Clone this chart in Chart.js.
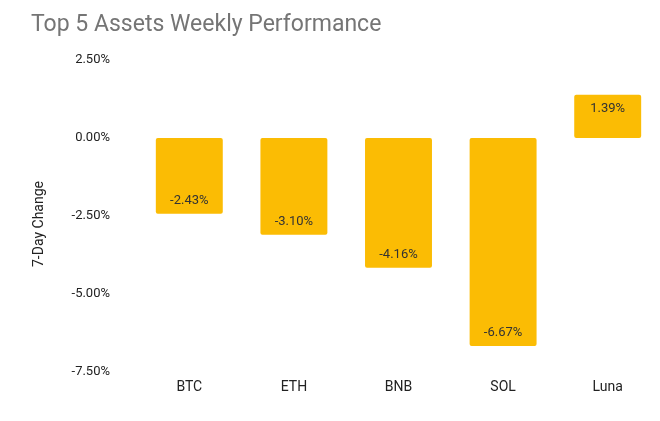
<!DOCTYPE html>
<html><head><meta charset="utf-8">
<script src="https://cdn.jsdelivr.net/npm/chart.js@4"></script>
<style>html,body{margin:0;padding:0;background:#fff}#wrap{width:660px;height:421px}</style>
</head><body><div id="wrap"><canvas id="c"></canvas></div>
<script>
const categories = ['BTC', 'ETH', 'BNB', 'SOL', 'Luna'];
const changes = [-2.43, -3.10, -4.16, -6.67, 1.39];
const chartTitle = 'Top 5 Assets Weekly Performance';
const yAxisTitle = '7-Day Change';

const fmt = v => v.toFixed(2) + '%';

const titlePlugin = {
  id: 'customTitle',
  afterDraw(chart) {
    const ctx = chart.ctx;
    ctx.save();
    ctx.font = '23px Roboto';
    ctx.fillStyle = '#757575';
    ctx.textAlign = 'left';
    ctx.textBaseline = 'alphabetic';
    ctx.fillText(chartTitle, 31, 31);
    // y-axis title
    ctx.font = '14px Roboto';
    ctx.fillStyle = '#222';
    ctx.textAlign = 'center';
    ctx.textBaseline = 'middle';
    ctx.translate(39, 224);
    ctx.rotate(-Math.PI / 2);
    ctx.fillText(yAxisTitle, 0, 0);
    ctx.restore();
  }
};

const labelPlugin = {
  id: 'barLabels',
  afterDatasetsDraw(chart) {
    const ctx = chart.ctx;
    const meta = chart.getDatasetMeta(0);
    ctx.save();
    ctx.font = '13px Roboto';
    ctx.fillStyle = '#333333';
    ctx.textAlign = 'center';
    ctx.textBaseline = 'middle';
    meta.data.forEach((bar, i) => {
      const v = changes[i];
      const y = v < 0 ? bar.y - 13 : bar.y + 14;
      ctx.fillText(fmt(v), bar.x, y);
    });
    ctx.restore();
  }
};

new Chart(document.getElementById('c'), {
  type: 'bar',
  data: {
    labels: categories,
    datasets: [{
      data: changes,
      backgroundColor: '#FBBC04',
      borderRadius: 2,
      borderSkipped: false,
      barPercentage: 0.64,
      categoryPercentage: 1
    }]
  },
  options: {
    responsive: true,
    maintainAspectRatio: false,
    animation: false,
    layout: { padding: { top: 60, left: 0, right: 0, bottom: 0 } },
    plugins: { legend: { display: false }, title: { display: false }, tooltip: { enabled: false } },
    scales: {
      x: {
        grid: { display: false, drawTicks: false },
        border: { display: false },
        ticks: { color: '#222', font: { family: 'Roboto', size: 14 }, padding: 7 },
        afterFit(s) { s.height = 49; }
      },
      y: {
        min: -7.5, max: 2.5,
        grid: { display: false, drawTicks: false },
        border: { display: false },
        ticks: { stepSize: 2.5, color: '#222', font: { family: 'Roboto', size: 13 }, padding: 27, callback: v => fmt(v) },
        afterFit(s) { s.width = 137; }
      }
    }
  },
  plugins: [titlePlugin, labelPlugin]
});
</script></body></html>
